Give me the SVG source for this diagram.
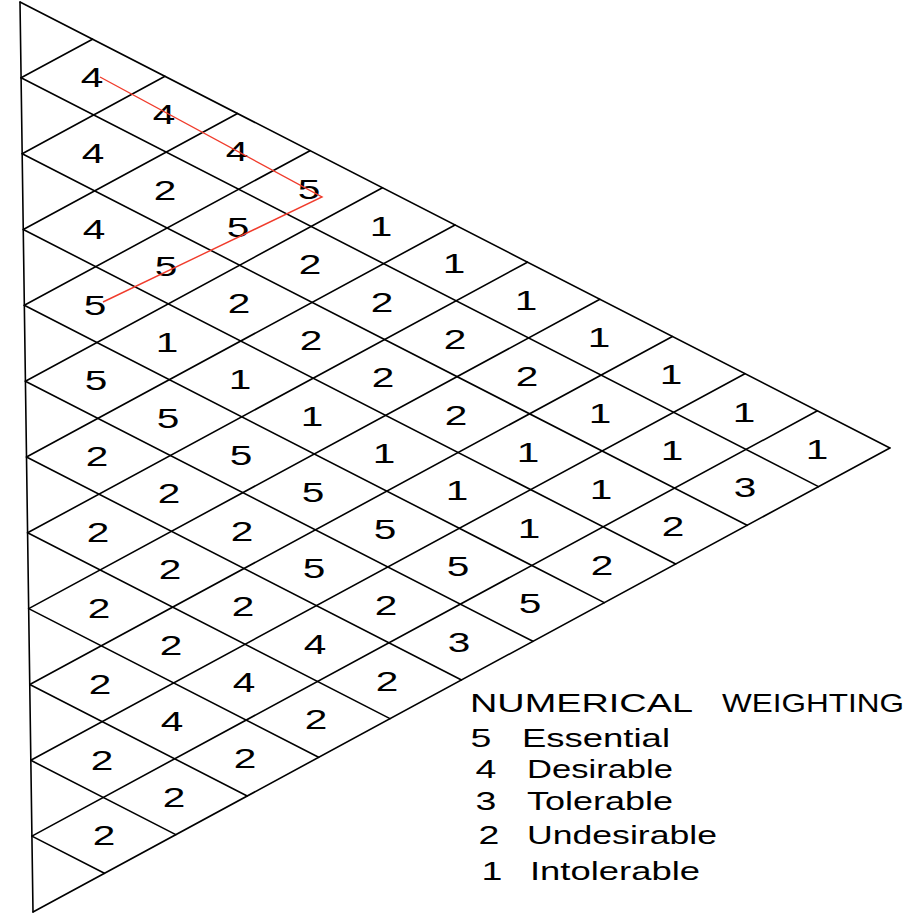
<svg xmlns="http://www.w3.org/2000/svg" width="907" height="915" viewBox="0 0 907 915">
<style>
  .bg { fill: #ffffff; }
  .grid line { stroke: #000; stroke-width: 1.6; stroke-linecap: round; }
  .edge { stroke: #000; stroke-width: 3; }
  .n { font-family: "Liberation Sans", Arial, sans-serif; font-size: 28px; fill: #000; text-anchor: middle; transform-box: fill-box; transform-origin: center; transform: scaleX(1.45); }
  .ld { font-family: "Liberation Sans", Arial, sans-serif; font-size: 25px; fill: #000; transform-box: fill-box; transform-origin: center; transform: scaleX(1.5); }
  .lt { font-family: "Liberation Sans", Arial, sans-serif; font-size: 25px; fill: #000; }
  .path { fill: none; stroke: #f03c2c; stroke-width: 1.4; }
</style>
<rect class="bg" x="0" y="0" width="907" height="915"/>
<g id="grid" class="grid">
  <line class="edge" x1="20" y1="2" x2="33" y2="912"/>
  <line x1="20" y1="2" x2="889.9" y2="448"/>
  <line x1="21.1" y1="77.8" x2="818.5" y2="486.6"/>
  <line x1="22.2" y1="153.7" x2="747.1" y2="525.3"/>
  <line x1="23.3" y1="229.5" x2="675.7" y2="564"/>
  <line x1="24.3" y1="305.3" x2="604.3" y2="602.6"/>
  <line x1="25.4" y1="381.2" x2="532.9" y2="641.3"/>
  <line x1="26.5" y1="457" x2="461.5" y2="680"/>
  <line x1="27.6" y1="532.8" x2="390" y2="718.6"/>
  <line x1="28.7" y1="608.6" x2="318.6" y2="757.3"/>
  <line x1="29.8" y1="684.5" x2="247.2" y2="796"/>
  <line x1="30.8" y1="760.3" x2="175.8" y2="834.6"/>
  <line x1="31.9" y1="836.1" x2="104.4" y2="873.3"/>
  <line x1="21.1" y1="77.8" x2="92.5" y2="39.2"/>
  <line x1="22.2" y1="153.7" x2="165" y2="76.3"/>
  <line x1="23.3" y1="229.5" x2="237.5" y2="113.5"/>
  <line x1="24.3" y1="305.3" x2="310" y2="150.7"/>
  <line x1="25.4" y1="381.2" x2="382.5" y2="187.8"/>
  <line x1="26.5" y1="457" x2="455" y2="225"/>
  <line x1="27.6" y1="532.8" x2="527.4" y2="262.2"/>
  <line x1="28.7" y1="608.6" x2="599.9" y2="299.3"/>
  <line x1="29.8" y1="684.5" x2="672.4" y2="336.5"/>
  <line x1="30.8" y1="760.3" x2="744.9" y2="373.7"/>
  <line x1="31.9" y1="836.1" x2="817.4" y2="410.8"/>
  <line x1="33" y1="912" x2="889.9" y2="448"/>
</g>
<g id="cells">
  <text class="n" x="92" y="87">4</text>
  <text class="n" x="93" y="163">4</text>
  <text class="n" x="94" y="239">4</text>
  <text class="n" x="95" y="315">5</text>
  <text class="n" x="96" y="390">5</text>
  <text class="n" x="97" y="466">2</text>
  <text class="n" x="98" y="542">2</text>
  <text class="n" x="99" y="618">2</text>
  <text class="n" x="100" y="694">2</text>
  <text class="n" x="102" y="770">2</text>
  <text class="n" x="104" y="845">2</text>

  <text class="n" x="164" y="124">4</text>
  <text class="n" x="165" y="200">2</text>
  <text class="n" x="166" y="276">5</text>
  <text class="n" x="167" y="352">1</text>
  <text class="n" x="168" y="428">5</text>
  <text class="n" x="169" y="503">2</text>
  <text class="n" x="170" y="579">2</text>
  <text class="n" x="171" y="655">2</text>
  <text class="n" x="172" y="731">4</text>
  <text class="n" x="174" y="807">2</text>

  <text class="n" x="237" y="161">4</text>
  <text class="n" x="238" y="237">5</text>
  <text class="n" x="239" y="313">2</text>
  <text class="n" x="240" y="389">1</text>
  <text class="n" x="241" y="465">5</text>
  <text class="n" x="242" y="541">2</text>
  <text class="n" x="243" y="616">2</text>
  <text class="n" x="244" y="692">4</text>
  <text class="n" x="245" y="768">2</text>

  <text class="n" x="309" y="199">5</text>
  <text class="n" x="310" y="274">2</text>
  <text class="n" x="311" y="350">2</text>
  <text class="n" x="312" y="426">1</text>
  <text class="n" x="313" y="502">5</text>
  <text class="n" x="314" y="578">5</text>
  <text class="n" x="315" y="654">4</text>
  <text class="n" x="316" y="729">2</text>

  <text class="n" x="381" y="236">1</text>
  <text class="n" x="382" y="312">2</text>
  <text class="n" x="383" y="387">2</text>
  <text class="n" x="384" y="463">1</text>
  <text class="n" x="385" y="539">5</text>
  <text class="n" x="386" y="615">2</text>
  <text class="n" x="387" y="691">2</text>

  <text class="n" x="454" y="273">1</text>
  <text class="n" x="455" y="349">2</text>
  <text class="n" x="456" y="425">2</text>
  <text class="n" x="457" y="500">1</text>
  <text class="n" x="458" y="576">5</text>
  <text class="n" x="459" y="652">3</text>

  <text class="n" x="526" y="310">1</text>
  <text class="n" x="527" y="386">2</text>
  <text class="n" x="528" y="462">1</text>
  <text class="n" x="529" y="538">1</text>
  <text class="n" x="530" y="613">5</text>

  <text class="n" x="599" y="347">1</text>
  <text class="n" x="600" y="423">1</text>
  <text class="n" x="601" y="499">1</text>
  <text class="n" x="602" y="575">2</text>

  <text class="n" x="671" y="384">1</text>
  <text class="n" x="672" y="460">1</text>
  <text class="n" x="673" y="536">2</text>

  <text class="n" x="744" y="422">1</text>
  <text class="n" x="745" y="497">3</text>

  <text class="n" x="817" y="459">1</text>
</g>
<g id="highlight">
  <path class="path" d="M100,77 L322,197 L103,302"/>
</g>
<g id="legend">
  <text class="lt" x="470" y="712" textLength="223" lengthAdjust="spacingAndGlyphs">NUMERICAL</text>
  <text class="lt" x="722" y="712" textLength="182" lengthAdjust="spacingAndGlyphs">WEIGHTING</text>
  <text class="ld" x="474" y="747">5</text>
  <text class="lt" x="522" y="747" textLength="148" lengthAdjust="spacingAndGlyphs">Essential</text>
  <text class="ld" x="479" y="778">4</text>
  <text class="lt" x="527" y="778" textLength="146" lengthAdjust="spacingAndGlyphs">Desirable</text>
  <text class="ld" x="479" y="810">3</text>
  <text class="lt" x="527" y="810" textLength="146" lengthAdjust="spacingAndGlyphs">Tolerable</text>
  <text class="ld" x="482" y="844">2</text>
  <text class="lt" x="527" y="844" textLength="190" lengthAdjust="spacingAndGlyphs">Undesirable</text>
  <text class="ld" x="485" y="880">1</text>
  <text class="lt" x="530" y="880" textLength="170" lengthAdjust="spacingAndGlyphs">Intolerable</text>
</g>
</svg>
